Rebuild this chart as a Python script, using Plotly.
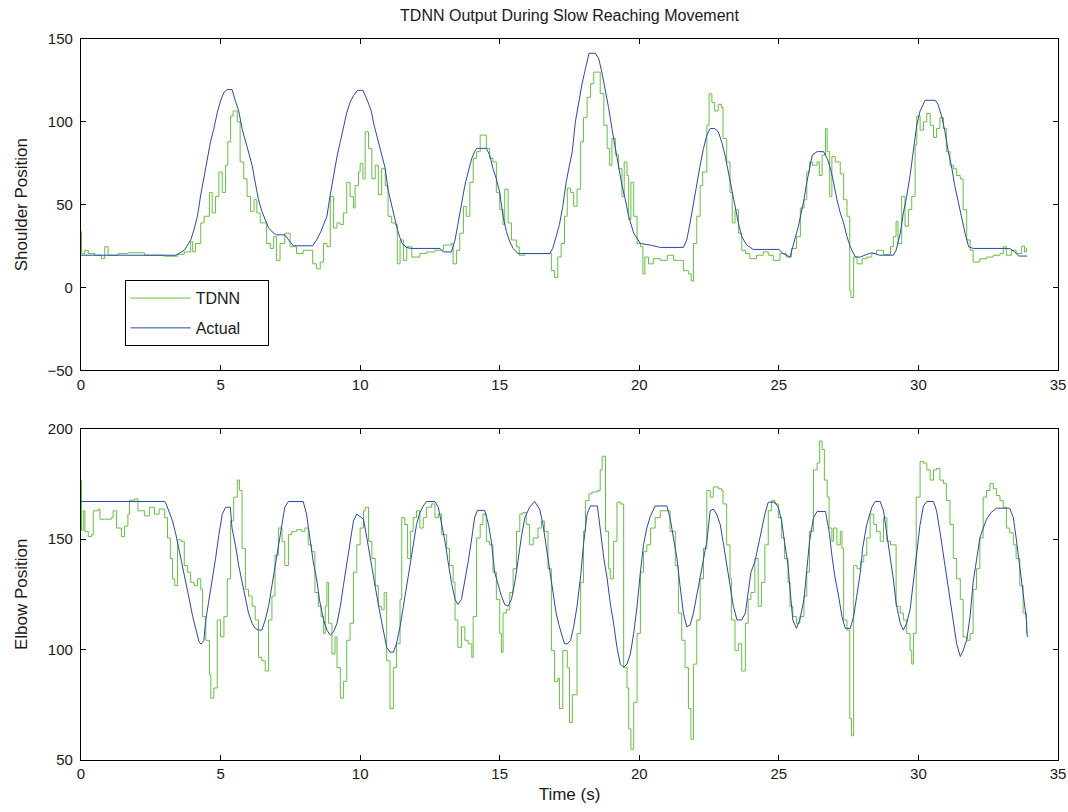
import plotly.graph_objects as go
from plotly.subplots import make_subplots

# ---- data: (time s, value) ----
shoulder_actual = [
    (0, 19.5), (3.4, 19.5), (3.7, 22.5), (3.93, 28.7), (4.05, 35), (4.17, 43), (4.29, 56), (4.41, 67.6),
    (4.53, 80), (4.64, 88), (4.76, 96), (4.88, 105.5), (5.0, 112.7), (5.12, 117.8), (5.24, 119.5), (5.41, 119.5),
    (5.53, 112.7), (5.65, 106.5), (5.77, 96), (5.89, 89), (6.0, 82), (6.13, 73.8), (6.24, 63.5), (6.36, 53),
    (6.48, 46), (6.6, 41), (6.72, 36), (6.9, 32.8), (7.0, 31.8), (7.3, 31.8), (7.5, 27.7), (7.6, 25.2),
    (8.3, 25.2), (8.44, 28.7), (8.6, 34), (8.7, 38), (8.81, 43), (8.93, 56), (9.05, 67.6), (9.17, 79),
    (9.29, 88), (9.4, 96), (9.52, 105.5), (9.64, 111.7), (9.76, 115.8), (9.9, 119), (10.1, 119), (10.24, 113.7),
    (10.4, 106.5), (10.5, 98), (10.65, 88), (10.77, 80), (10.9, 71.7), (11.0, 59), (11.13, 49), (11.25, 41),
    (11.37, 32.8), (11.5, 26.6), (11.67, 24.2), (11.8, 23.6), (12.86, 23.6), (12.98, 21.5), (13.27, 21.5),
    (13.4, 28.7), (13.5, 38), (13.63, 51), (13.75, 61.5), (13.87, 69.7), (14.0, 78), (14.1, 82), (14.17, 84),
    (14.52, 84), (14.64, 80), (14.76, 71.7), (14.88, 65.6), (15.0, 57.4), (15.12, 43), (15.24, 33.8),
    (15.36, 27.7), (15.48, 23.6), (15.65, 20.5), (16.8, 20.5), (16.9, 23.6), (17.02, 30.7), (17.14, 38),
    (17.26, 49), (17.38, 63.5), (17.5, 74), (17.6, 82), (17.71, 100), (17.83, 111.7), (17.95, 123), (18.07, 132),
    (18.2, 141.4), (18.43, 141.4), (18.55, 138), (18.67, 129), (18.79, 119), (18.9, 108.6), (19.02, 96),
    (19.14, 84), (19.26, 73.8), (19.38, 61.5), (19.5, 53), (19.62, 43), (19.8, 32.8), (20.04, 26.6),
    (20.4, 25.6), (20.75, 24.2), (21.58, 24.2), (21.7, 28.7), (21.82, 39), (21.94, 51), (22.06, 63.5),
    (22.18, 73.8), (22.3, 84), (22.42, 92), (22.54, 96), (22.7, 96), (22.83, 94), (22.95, 88), (23.07, 80),
    (23.19, 69.7), (23.3, 59.4), (23.43, 49), (23.55, 39), (23.67, 30.7), (23.85, 25.6), (24.08, 23),
    (25.0, 23), (25.15, 20.5), (25.4, 18.4), (25.5, 24.6), (25.7, 37), (25.8, 45), (25.9, 53), (26.0, 63.5),
    (26.1, 71.7), (26.2, 80), (26.37, 82), (26.6, 82), (26.73, 78), (26.85, 71.7), (26.96, 63.5), (27.08, 53),
    (27.2, 45), (27.32, 39), (27.44, 30.7), (27.56, 24.6), (27.74, 18.4), (27.92, 18.4), (28.15, 20),
    (28.33, 21), (28.6, 19.5), (29.1, 19.5), (29.2, 22.5), (29.35, 32.8), (29.46, 45), (29.58, 55),
    (29.7, 67.6), (29.82, 84), (29.94, 98), (30.06, 106.5), (30.24, 113), (30.6, 113), (30.7, 110.6),
    (30.83, 103.5), (30.95, 94), (31.07, 82), (31.2, 71.7), (31.3, 61.5), (31.43, 51), (31.55, 43),
    (31.67, 32.8), (31.8, 24.6), (31.96, 23.6), (33.27, 23.6), (33.45, 21.5), (33.6, 19), (33.9, 19),
]

shoulder_tdnn = [
    (0, 33.8), (0.02, 20.5), (0.14, 22.5), (0.26, 20.5), (0.5, 19.5), (0.73, 17.4), (0.85, 24.6), (0.97, 19.5),
    (1.33, 20.5), (1.68, 21), (2.27, 19.5), (2.99, 18.9), (3.46, 20), (3.7, 21.5), (3.93, 27.7), (4.0, 21.5),
    (4.1, 26.6), (4.29, 39), (4.41, 43), (4.6, 57.4), (4.7, 45), (4.82, 55), (4.94, 69.7), (5.06, 57.4),
    (5.18, 73.8), (5.26, 88), (5.36, 103.5), (5.45, 106.6), (5.6, 100), (5.7, 75.8), (5.83, 65.6), (5.95, 55),
    (6.07, 46), (6.2, 53), (6.3, 45), (6.42, 39), (6.54, 39), (6.65, 26.6), (6.78, 23.6), (6.9, 30.7),
    (7.0, 16.4), (7.13, 26.6), (7.3, 32.8), (7.49, 24.6), (7.72, 20.5), (7.96, 22.5), (8.2, 22.5), (8.3, 14.3),
    (8.44, 11.3), (8.57, 15.4), (8.69, 26.6), (8.81, 24.6), (8.93, 55), (9.05, 35.9), (9.17, 39), (9.29, 38),
    (9.4, 45), (9.52, 63.5), (9.64, 55), (9.76, 48), (9.82, 61.5), (9.94, 69.7), (10.0, 74.8), (10.1, 65.6),
    (10.18, 94), (10.3, 84), (10.42, 65.6), (10.54, 73.8), (10.65, 56), (10.77, 71.7), (10.9, 61.5),
    (11.0, 43), (11.13, 39), (11.25, 38), (11.33, 14.3), (11.43, 28.7), (11.55, 16.4), (11.67, 24.6),
    (11.85, 18.4), (12.14, 20.5), (12.38, 21.5), (12.68, 22.5), (12.98, 25.6), (13.27, 26.6), (13.33, 14.3),
    (13.45, 22.5), (13.57, 32.8), (13.7, 49), (13.8, 43), (13.93, 63.5), (14.05, 78), (14.17, 82), (14.3, 92),
    (14.4, 92), (14.52, 84), (14.64, 78), (14.76, 75.8), (14.88, 57.4), (15.0, 47), (15.12, 38), (15.18, 59.4),
    (15.3, 39), (15.42, 28.7), (15.6, 24.6), (15.7, 19.5), (15.9, 20.5), (16.8, 20.5), (16.85, 10.2),
    (16.96, 6.1), (17.08, 18.4), (17.2, 26.6), (17.32, 43), (17.42, 60), (17.54, 57.4), (17.65, 49),
    (17.77, 59.4), (17.9, 88), (18.0, 102.5), (18.13, 114.8), (18.25, 123), (18.37, 130), (18.5, 130),
    (18.6, 117), (18.73, 98), (18.85, 84), (18.94, 73.8), (19.02, 90), (19.14, 80), (19.26, 71.7), (19.38, 55),
    (19.46, 75.8), (19.56, 67.6), (19.62, 41), (19.7, 63.5), (19.8, 43), (19.92, 26.6), (20.04, 24.6),
    (20.13, 8.2), (20.2, 18.4), (20.33, 14.3), (20.5, 17.4), (20.75, 16.4), (21.0, 19.5), (21.23, 16.4),
    (21.4, 16.4), (21.58, 10.2), (21.76, 8.2), (21.86, 4), (21.94, 26.6), (22.06, 43), (22.18, 61.5),
    (22.27, 69.7), (22.42, 98), (22.5, 117), (22.6, 111.7), (22.7, 106.6), (22.83, 110.6), (22.95, 108.6),
    (23.0, 90), (23.13, 75.8), (23.25, 57.4), (23.33, 39), (23.43, 47), (23.55, 32.8), (23.67, 22.5),
    (23.8, 20.5), (23.96, 17.4), (24.2, 19.5), (24.44, 21.5), (24.62, 19.5), (24.8, 16.4), (25.04, 20.5),
    (25.27, 18.4), (25.45, 23.6), (25.63, 30.7), (25.77, 48), (25.9, 53), (26.0, 69.7), (26.1, 75.8),
    (26.2, 73.8), (26.37, 75.8), (26.45, 67.6), (26.55, 80), (26.67, 96), (26.73, 82), (26.82, 55), (26.9, 79),
    (27.02, 75.8), (27.2, 68.6), (27.32, 53), (27.44, 43), (27.54, -2), (27.58, -6), (27.68, 18.4),
    (27.8, 14.3), (27.98, 17.4), (28.15, 18.4), (28.33, 20.5), (28.5, 22.5), (28.75, 20), (29.0, 24.6),
    (29.1, 30.7), (29.2, 40), (29.27, 26.6), (29.4, 55), (29.52, 37), (29.64, 47), (29.76, 55), (29.88, 86),
    (29.94, 103.5), (30.06, 95), (30.18, 100), (30.3, 105), (30.42, 98), (30.54, 90.6), (30.65, 96),
    (30.77, 102.5), (30.9, 96), (31.0, 82), (31.13, 73.8), (31.25, 71.7), (31.37, 67.6), (31.5, 65.6),
    (31.6, 47), (31.73, 28.7), (31.85, 22.5), (31.96, 15.4), (32.2, 17.4), (32.44, 18.4), (32.68, 19.5),
    (32.92, 20.5), (33.04, 24.6), (33.15, 19.5), (33.33, 22.5), (33.5, 20.5), (33.7, 25), (33.8, 21.5),
    (33.87, 24),
]

elbow_actual = [
    (0, 167), (3.0, 167), (3.05, 165.9), (3.16, 162), (3.28, 158.2), (3.4, 152), (3.52, 145), (3.64, 138),
    (3.76, 130.4), (3.88, 122.7), (4.0, 115), (4.11, 108.8), (4.23, 103.4), (4.3, 102.5), (4.4, 104),
    (4.47, 113.4), (4.59, 122.7), (4.7, 132), (4.82, 141.2), (4.94, 152), (5.06, 161.3), (5.18, 164.4),
    (5.35, 164.4), (5.41, 155), (5.53, 147.4), (5.65, 138), (5.77, 130.4), (5.89, 122.7), (6.0, 116.5),
    (6.13, 111.9), (6.24, 109.6), (6.36, 108.8), (6.48, 108.8), (6.6, 113.4), (6.72, 119.6), (6.84, 128.9),
    (6.95, 138), (7.07, 147.4), (7.2, 156.6), (7.3, 164.4), (7.43, 167), (7.96, 167), (8.08, 161.3),
    (8.2, 150.5), (8.32, 139.7), (8.44, 132), (8.55, 122), (8.69, 113.4), (8.81, 108.8), (8.93, 106.5),
    (9.05, 108), (9.17, 111.9), (9.29, 119.6), (9.4, 128.9), (9.52, 138), (9.64, 149), (9.76, 158.2),
    (9.88, 161.3), (10.0, 160), (10.12, 159), (10.24, 150.5), (10.36, 141.2), (10.48, 132), (10.6, 124.2),
    (10.71, 116.5), (10.83, 108.8), (10.95, 101), (11.07, 98.8), (11.19, 98.8), (11.3, 102.6), (11.43, 110.3),
    (11.55, 119.6), (11.67, 128.9), (11.79, 138), (11.9, 147.4), (12.02, 156.6), (12.14, 162), (12.26, 165),
    (12.38, 167), (12.68, 167), (12.8, 164.4), (12.92, 156.6), (13.04, 149), (13.15, 139.7), (13.27, 130.4),
    (13.4, 122.7), (13.5, 120.4), (13.63, 122.7), (13.75, 130.4), (13.87, 139.7), (14.0, 150.5), (14.1, 159.7),
    (14.2, 163), (14.46, 163), (14.6, 156.6), (14.7, 149), (14.82, 135), (14.94, 128.9), (15.06, 124.2),
    (15.18, 120.4), (15.3, 119.6), (15.42, 122.7), (15.54, 130.4), (15.65, 139.7), (15.77, 150.5),
    (15.9, 159.7), (16.07, 164.4), (16.25, 167), (16.43, 163.6), (16.55, 156.6), (16.67, 145.8), (16.79, 135),
    (16.9, 127.3), (17.02, 116.5), (17.14, 110.3), (17.32, 102.6), (17.42, 102.6), (17.54, 104.2),
    (17.65, 110.3), (17.77, 119.6), (17.9, 133.5), (18.0, 147.4), (18.13, 161.3), (18.25, 165), (18.5, 165),
    (18.6, 153.5), (18.73, 141.2), (18.85, 132), (18.96, 121), (19.08, 111.9), (19.2, 101), (19.32, 93.4),
    (19.44, 92), (19.56, 93.4), (19.68, 98), (19.8, 107.3), (19.92, 119.6), (20.04, 135), (20.15, 147.4),
    (20.27, 155), (20.4, 160.5), (20.57, 165), (20.99, 165), (21.1, 159.7), (21.23, 150.5), (21.35, 141.2),
    (21.46, 128.9), (21.58, 116.5), (21.7, 110.3), (21.82, 111), (21.94, 116.5), (22.06, 124.2), (22.18, 132),
    (22.3, 141.2), (22.42, 149), (22.54, 162.8), (22.65, 163.6), (22.77, 161.3), (22.9, 156.6), (23.0, 149),
    (23.13, 138), (23.25, 128.9), (23.37, 119.6), (23.5, 113.4), (23.67, 113.4), (23.8, 116.5), (23.9, 125.8),
    (24.0, 135), (24.14, 139.7), (24.26, 147.4), (24.38, 155), (24.5, 161.3), (24.62, 166.7), (24.86, 166.7),
    (24.98, 164.4), (25.1, 158.2), (25.2, 149), (25.33, 138), (25.4, 127.3), (25.5, 113.4), (25.63, 109.6),
    (25.75, 113.4), (25.9, 122.7), (26.0, 135), (26.1, 149), (26.24, 159.7), (26.37, 162.5), (26.67, 162.5),
    (26.8, 153.5), (26.9, 142.7), (27.0, 133.5), (27.14, 124.2), (27.26, 115), (27.38, 109.6), (27.56, 109.6),
    (27.68, 115), (27.8, 125.8), (27.92, 135), (28.0, 145.8), (28.15, 156.6), (28.33, 164.4), (28.45, 167),
    (28.63, 167), (28.75, 162.8), (28.87, 152), (29.0, 141.2), (29.1, 132), (29.2, 121), (29.35, 111.9),
    (29.46, 108.8), (29.58, 111.9), (29.7, 118), (29.82, 130.4), (29.94, 142.7), (30.06, 156.6), (30.18, 165),
    (30.3, 167), (30.54, 167), (30.65, 162.8), (30.77, 153.5), (30.9, 142.7), (31.0, 133.5), (31.13, 122.7),
    (31.25, 111.9), (31.37, 102.6), (31.5, 96.8), (31.6, 99.5), (31.73, 104.2), (31.85, 115), (31.96, 130.4),
    (32.08, 141.2), (32.2, 150.5), (32.32, 155), (32.44, 159), (32.6, 162), (32.8, 164), (33.27, 164),
    (33.4, 159.7), (33.5, 150.5), (33.63, 136.6), (33.75, 125.8), (33.87, 113.4), (33.9, 105.7),
]

elbow_tdnn = [
    (0, 176.7), (0.02, 154), (0.08, 162.8), (0.14, 153.5), (0.26, 151.2), (0.38, 152), (0.44, 162.8),
    (0.62, 163.6), (0.68, 159), (0.85, 159), (1.09, 159.7), (1.15, 162.8), (1.27, 155), (1.45, 151.2),
    (1.56, 155.9), (1.68, 161.3), (1.74, 167.6), (1.92, 168.2), (2.04, 162.8), (2.27, 160.5), (2.45, 164.4),
    (2.63, 161.3), (2.8, 163.6), (3.0, 159.7), (3.1, 150.5), (3.2, 141.2), (3.28, 132), (3.36, 129),
    (3.46, 149.7), (3.58, 149), (3.7, 138), (3.82, 135), (3.93, 130.4), (4.05, 128.9), (4.17, 132),
    (4.29, 127.3), (4.35, 115), (4.47, 104.2), (4.6, 88.7), (4.65, 78), (4.76, 82.6), (4.88, 113.4),
    (5.0, 105.7), (5.12, 115), (5.24, 132), (5.36, 158.2), (5.47, 169), (5.6, 176.7), (5.68, 172),
    (5.77, 145.8), (5.89, 127.3), (6.0, 124.2), (6.13, 119.6), (6.24, 113.4), (6.36, 96.5), (6.48, 94.9),
    (6.6, 90.3), (6.72, 113.4), (6.84, 124.2), (6.95, 142.7), (7.07, 155), (7.2, 149), (7.3, 138),
    (7.43, 152), (7.55, 153.5), (7.73, 154.3), (7.9, 153.5), (8.02, 155), (8.14, 147.4), (8.26, 144.3),
    (8.38, 125.8), (8.5, 119.6), (8.6, 115), (8.69, 107.3), (8.75, 119.6), (8.81, 130.4), (8.87, 111.9),
    (8.99, 98), (9.1, 105.7), (9.17, 91.8), (9.29, 78), (9.4, 85.6), (9.52, 104.2), (9.64, 111.9),
    (9.76, 135), (9.88, 147.4), (10.0, 155), (10.12, 162.8), (10.18, 164.4), (10.3, 149), (10.42, 141.2),
    (10.54, 128.9), (10.65, 119.6), (10.77, 118), (10.86, 125.8), (10.95, 94.9), (11.07, 73.3),
    (11.19, 91.8), (11.3, 102.6), (11.43, 122.7), (11.49, 159.7), (11.6, 156.6), (11.7, 141.2),
    (11.8, 153.5), (11.9, 159.7), (12.02, 162.8), (12.14, 155), (12.26, 159.7), (12.38, 164.4),
    (12.56, 165.9), (12.68, 159.7), (12.8, 161.3), (12.92, 152), (13.1, 145.8), (13.2, 138), (13.33, 130.4),
    (13.4, 113.4), (13.5, 101), (13.63, 110.3), (13.75, 104.2), (13.87, 102.6), (14.0, 96.5), (14.05, 115),
    (14.17, 150.5), (14.3, 156.6), (14.4, 161.3), (14.52, 149), (14.64, 147.4), (14.76, 135), (14.88, 122.7),
    (15.0, 107.3), (15.06, 98.8), (15.12, 116.5), (15.24, 118), (15.36, 125.8), (15.48, 136.6),
    (15.6, 153.5), (15.72, 161.3), (15.83, 162), (15.95, 156.6), (16.07, 147.4), (16.2, 150.5),
    (16.37, 155), (16.5, 158.2), (16.6, 153.5), (16.73, 136.6), (16.85, 99.5), (16.96, 85.6), (17.08, 87),
    (17.14, 73.3), (17.26, 99.5), (17.42, 91.8), (17.5, 67), (17.6, 79.5), (17.77, 107.3), (17.9, 130.4),
    (18.0, 153.5), (18.07, 167.4), (18.2, 170.5), (18.3, 171.3), (18.5, 172), (18.6, 181.3), (18.67, 187.5),
    (18.79, 153.5), (18.9, 136.6), (18.96, 132), (19.08, 149), (19.2, 166.7), (19.32, 165.9), (19.44, 91.8),
    (19.56, 82.6), (19.62, 64), (19.7, 54.8), (19.8, 76.1), (19.92, 107.3), (20.04, 135), (20.15, 144.3),
    (20.27, 147.4), (20.4, 155), (20.57, 159.7), (20.75, 162.8), (20.93, 162.8), (21.1, 153.5), (21.29, 138),
    (21.4, 116.5), (21.52, 104.2), (21.64, 91.8), (21.76, 73.3), (21.85, 59.4), (21.94, 93.4), (22.06, 113.4),
    (22.18, 132), (22.3, 145.8), (22.42, 172), (22.54, 169), (22.65, 173.6), (22.83, 172.8), (22.95, 172),
    (23.0, 165.9), (23.13, 147.4), (23.25, 132), (23.3, 113.4), (23.43, 99.5), (23.55, 102.6), (23.67, 90.3),
    (23.8, 111.9), (23.9, 122.7), (24.0, 125.8), (24.14, 141.2), (24.26, 119.6), (24.38, 130.4),
    (24.5, 147.4), (24.62, 162.8), (24.74, 167.4), (24.86, 165.9), (24.98, 159.7), (25.1, 150.5),
    (25.2, 141.2), (25.33, 130.4), (25.4, 119.6), (25.5, 115), (25.63, 111.9), (25.75, 115), (25.9, 124.2),
    (26.0, 135), (26.1, 153.5), (26.24, 181.3), (26.37, 184.4), (26.46, 194.4), (26.55, 190.6),
    (26.63, 176.7), (26.73, 169), (26.8, 155), (26.9, 149), (26.96, 155), (27.08, 147.4), (27.2, 153.5),
    (27.26, 145.8), (27.32, 113.4), (27.44, 108.8), (27.54, 68.7), (27.6, 61), (27.68, 138), (27.8, 136.6),
    (27.92, 139.7), (28.04, 142.7), (28.15, 150.5), (28.27, 161.3), (28.4, 156.6), (28.5, 153.5),
    (28.63, 149), (28.75, 159.7), (28.87, 149), (29.0, 147.4), (29.1, 147.4), (29.2, 119.6), (29.35, 116.5),
    (29.46, 113.4), (29.58, 107.3), (29.7, 99.5), (29.76, 93.4), (29.82, 107.3), (29.92, 169), (30.06, 185.2),
    (30.18, 184.4), (30.3, 181.3), (30.42, 176.7), (30.54, 181.3), (30.65, 182), (30.77, 176.7),
    (30.9, 175.2), (31.0, 167.4), (31.13, 156.6), (31.25, 141.2), (31.37, 132), (31.5, 122.7), (31.6, 105.7),
    (31.73, 104.2), (31.85, 107.3), (31.96, 127.3), (32.08, 136.6), (32.2, 150.5), (32.32, 169), (32.44, 172),
    (32.56, 175.2), (32.68, 172.8), (32.8, 169.7), (32.92, 167.4), (33.04, 164.4), (33.15, 155),
    (33.27, 152.8), (33.4, 147.4), (33.5, 141.2), (33.63, 128.9), (33.75, 116.5), (33.87, 107.3),
]

x_ticks = [0, 5, 10, 15, 20, 25, 30, 35]
shoulder_ticks = [-50, 0, 50, 100, 150]
elbow_ticks = [50, 100, 150, 200]

title_text = "TDNN Output During Slow Reaching Movement"
x_title = "Time (s)"
y_titles = ["Shoulder Position", "Elbow Position"]
names = ["TDNN", "Actual"]

GREEN = "#66c043"
BLUE = "#2c48a8"
FONT = "Liberation Sans, Arial, Helvetica, sans-serif"
TXT = "#1a1a1a"

W, H = 1068, 812


def split(pairs):
    return [p[0] for p in pairs], [p[1] for p in pairs]


fig = make_subplots(rows=2, cols=1, vertical_spacing=0.0808)

PAD = "\u00a0" * 5
series = [
    (1, shoulder_tdnn, GREEN, names[0] + PAD, True, "hv", "g1"),
    (1, shoulder_actual, BLUE, names[1] + PAD, True, "linear", "g2"),
    (2, elbow_tdnn, GREEN, names[0], False, "hv", "g1"),
    (2, elbow_actual, BLUE, names[1], False, "linear", "g2"),
]
for row, pairs, col, nm, show, shape, grp in series:
    t, v = split(pairs)
    fig.add_trace(
        go.Scatter(x=t, y=v, mode="lines", name=nm, showlegend=show, legendgroup=grp,
                   line=dict(color=col, width=1, shape=shape)),
        row=row, col=1,
    )

axis_common = dict(
    showline=True, linecolor="black", linewidth=1.3, mirror="ticks",
    ticks="inside", ticklen=5, tickcolor="black", tickwidth=1,
    showgrid=False, zeroline=False, automargin=False,
    tickfont=dict(family=FONT, size=15, color=TXT),
)
for r in (1, 2):
    fig.update_xaxes(range=[0, 35], tickvals=x_ticks, row=r, col=1, ticklabeloverflow="allow",
                     **axis_common)
fig.update_xaxes(title=dict(text=x_title, font=dict(family=FONT, size=17, color=TXT), standoff=6), row=2, col=1)
fig.update_yaxes(range=[-50, 150], tickvals=shoulder_ticks, row=1, col=1, ticklabelstandoff=4,
                 title=dict(text=y_titles[0], font=dict(family=FONT, size=17, color=TXT), standoff=15),
                 **axis_common)
fig.update_yaxes(range=[50, 200], tickvals=elbow_ticks, row=2, col=1, ticklabelstandoff=4,
                 title=dict(text=y_titles[1], font=dict(family=FONT, size=17, color=TXT), standoff=15),
                 **axis_common)

fig.update_layout(
    width=W, height=H,
    margin=dict(l=81, r=10, t=39, b=52, autoexpand=False),
    paper_bgcolor="white", plot_bgcolor="white",
    font=dict(family=FONT, size=15, color=TXT),
    title=dict(text=title_text, x=0.5, xref="paper", xanchor="center",
               y=1 - 15 / H, yref="container", yanchor="middle",
               font=dict(family=FONT, size=16, color=TXT)),
    legend=dict(x=0.0447, y=0.6655, xanchor="left", yanchor="top",
                bordercolor="black", borderwidth=1, bgcolor="white",
                itemwidth=60, traceorder="grouped", tracegroupgap=6,
                font=dict(family=FONT, size=16, color=TXT)),
    showlegend=True,
)

# remove the default page margin so the figure sits at the window origin
fig.write_html("out.html", config={"displayModeBar": False},
               post_script="document.body.style.margin='0';document.body.style.overflow='hidden';")
